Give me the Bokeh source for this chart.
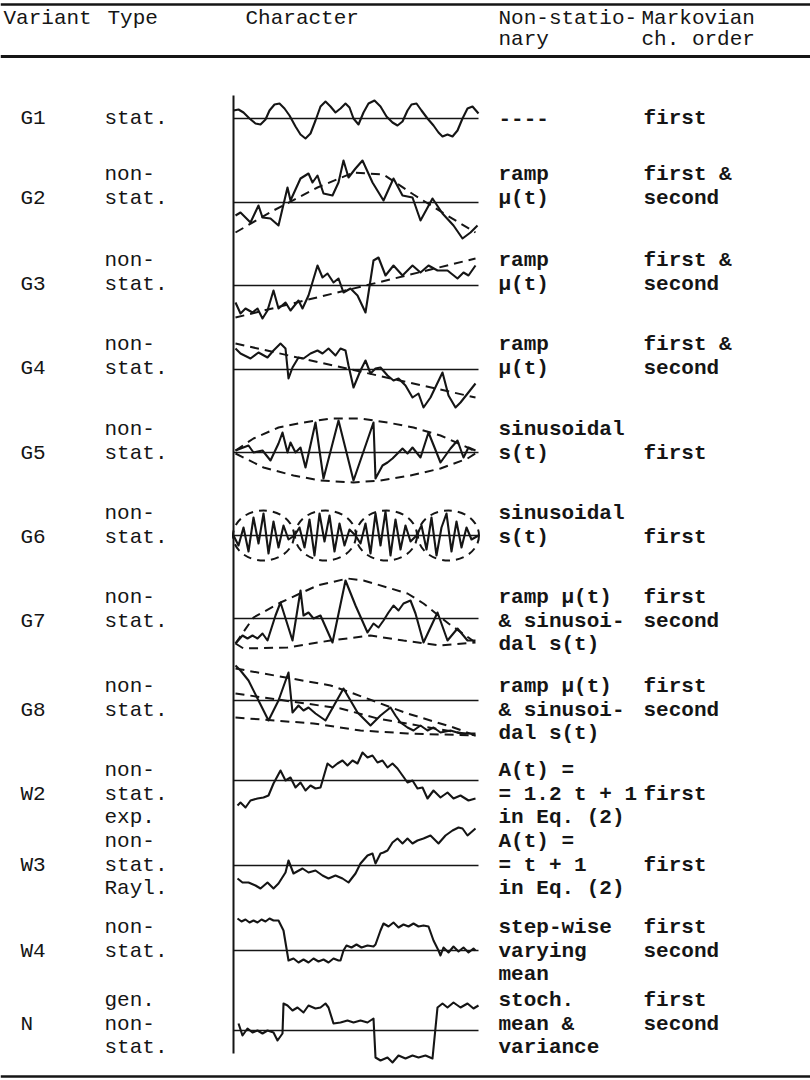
from bokeh.plotting import figure
from bokeh.models import Range1d, ColumnDataSource
from bokeh.core.properties import value
from bokeh.embed import file_html
from bokeh.resources import INLINE

# ---------------- table text ----------------
header_row1 = ["Variant", "Type", "Character", "Non-statio-", "Markovian"]
header_row2 = ["", "", "", "nary", "ch. order"]

variants = ["G1", "G2", "G3", "G4", "G5", "G6", "G7", "G8", "W2", "W3", "W4", "N"]
variant_line = [0, 1, 1, 1, 1, 1, 1, 1, 1, 1, 1, 1]
types = [["stat."], ["non-", "stat."], ["non-", "stat."], ["non-", "stat."],
         ["non-", "stat."], ["non-", "stat."], ["non-", "stat."], ["non-", "stat."],
         ["non-", "stat.", "exp."], ["non-", "stat.", "Rayl."], ["non-", "stat."],
         ["gen.", "non-", "stat."]]
nonstationary = [["----"], ["ramp", "μ(t)"], ["ramp", "μ(t)"], ["ramp", "μ(t)"],
                 ["sinusoidal", "s(t)"], ["sinusoidal", "s(t)"],
                 ["ramp μ(t)", "& sinusoi-", "dal s(t)"],
                 ["ramp μ(t)", "& sinusoi-", "dal s(t)"],
                 ["A(t) =", "= 1.2 t + 1", "in Eq. (2)"],
                 ["A(t) =", "= t + 1", "in Eq. (2)"],
                 ["step-wise", "varying", "mean"],
                 ["stoch.", "mean &", "variance"]]
markov = [["first"], ["first &", "second"], ["first &", "second"], ["first &", "second"],
          ["", "first"], ["", "first"], ["first", "second"], ["first", "second"],
          ["", "first"], ["", "first"], ["first", "second"], ["first", "second"]]

# ---------------- waveform data (time 0..245, amplitude) ----------------
g1_t = [0, 5, 10, 16, 22, 27, 32, 36, 41, 46, 51, 56, 62, 67, 72, 77, 82, 87, 92, 97,
        102, 107, 112, 116, 120, 125, 130, 135, 141, 147, 153, 159, 164, 169, 174, 178, 183,
        188, 194, 200, 205, 209, 214, 219, 224, 229, 234, 239, 245]
g1_v = [8, 9, 6, 0, -5, -6, -1, 8, 14, 15, 10, 3, -8, -16, -20, -15, -2, 12, 17, 12,
        6, 10, 15, 11, 0, -6, 6, 15, 18, 12, 2, -4, -7, -3, 8, 14, 15,
        8, 0, -7, -14, -18, -16, -18, -12, 0, 10, 12, 5]

g2_t = [2, 7, 17, 25, 29, 37, 45, 54, 57, 67, 75, 79, 84, 90, 99, 105, 110, 115, 122, 129,
        139, 150, 160, 169, 179, 187, 199, 209, 220, 229, 237, 244]
g2_v = [-13, -10, -20, -3, -15, -16, -23, 15, 2, 24, 29, 20, 27, 9, 7, 20, 42, 25, 34, 42,
        20, 2, 24, 7, 5, -18, 4, -11, -23, -36, -30, -23]
g2_trend_t = [2, 40, 84, 120, 150, 180, 212, 242]
g2_trend_v = [-30, -8, 15, 30, 28, 8, -12, -30]

g3_t = [2, 7, 12, 19, 24, 29, 34, 40, 45, 52, 57, 65, 69, 75, 84, 89, 94, 100, 105, 110,
        117, 124, 132, 140, 145, 152, 160, 169, 179, 187, 195, 204, 214, 224, 230, 235, 242]
g3_v = [-17, -28, -23, -27, -23, -33, -25, -5, -23, -17, -25, -15, -23, -10, 20, 8, 12, 3, 7, -7,
        -3, -10, -27, 25, 28, 10, 20, 10, 20, 13, 20, 15, 15, 7, 13, 10, 20]
g3_trend_t = [2, 242]
g3_trend_v = [-32, 27]

g4_t = [2, 7, 17, 25, 34, 40, 47, 52, 55, 59, 65, 70, 77, 84, 89, 95, 102, 107, 112, 115,
        120, 127, 132, 137, 142, 147, 154, 160, 165, 172, 179, 185, 190, 197, 209, 215, 222,
        227, 242]
g4_v = [21, 16, 11, 17, 12, 19, 26, 21, -9, 2, 12, 11, 16, 19, 16, 21, 14, 21, 19, 4,
        -18, -1, 9, -4, 1, 2, -6, -11, -9, -16, -28, -24, -38, -28, -3, -26, -38,
        -33, -14]
g4_trend_t = [2, 242]
g4_trend_v = [26, -28]

g5_t = [2, 15, 20, 29, 37, 45, 49, 54, 57, 62, 67, 72, 82, 90, 105, 120, 140, 142, 149, 154,
        159, 164, 169, 174, 179, 187, 195, 207, 217, 224, 230, 235, 242]
g5_v = [2, 7, 0, 2, -8, 9, 20, 0, 10, 0, 5, -15, 30, -26, 32, -28, 30, -26, -13, -10,
        -6, -1, 4, -1, 5, -5, 20, -10, 4, 12, -5, 5, 2]
g5_upper_t = [2, 20, 45, 70, 97, 127, 154, 180, 207, 234, 242]
g5_upper_v = [2, 14, 25, 30, 34, 34, 30, 25, 17, 5, 1]
g5_lower_t = [2, 30, 60, 87, 120, 147, 177, 207, 234, 242]
g5_lower_v = [-1, -15, -23, -28, -30, -28, -23, -16, -6, -1]

g6_t = [0, 5, 10, 15, 20, 25, 30, 35, 40, 45, 50, 55, 61,
        66, 71, 76, 81, 86, 91, 96, 101, 106, 111, 116, 122,
        127, 132, 137, 142, 147, 152, 157, 162, 167, 172, 177, 183,
        188, 193, 198, 203, 208, 213, 218, 223, 228, 233, 238, 245]
g6_v = [0, -10, 8, -16, 18, -8, 22, -18, 14, -12, 10, -4, 0,
        8, -12, 16, -20, 22, -6, 20, -16, 12, -10, 6, 0,
        -8, 12, -18, 22, -10, 24, -20, 16, -14, 10, -6, 0,
        10, -14, 18, -20, 8, 22, -16, 14, -12, 8, -4, 0]
g6_env_center_t = [30, 92, 153, 215]
g6_env_amp = [25, 25, 25, 25]

g7_t = [2, 9, 14, 19, 24, 29, 34, 42, 47, 59, 67, 70, 75, 80, 87, 99, 112, 122, 134, 140,
        145, 150, 155, 160, 165, 170, 177, 182, 190, 204, 214, 224, 234, 242]
g7_v = [-25, -17, -20, -17, -20, -15, -22, 3, 16, -22, 28, 3, 6, 0, 3, -24, 38, 13, -14, -5,
        -9, -2, 6, 13, 8, 15, 18, 5, -24, 6, -22, -10, -22, -22]
g7_upper_t = [2, 20, 47, 84, 114, 130, 154, 174, 190, 215, 242]
g7_upper_v = [-25, 1, 16, 33, 40, 38, 31, 25, 15, -5, -24]
g7_lower_t = [2, 10, 54, 97, 137, 170, 207, 242]
g7_lower_v = [-25, -30, -29, -22, -17, -22, -27, -24]

g8_t = [2, 7, 15, 25, 35, 45, 55, 59, 65, 70, 75, 82, 92, 110, 124, 137, 147, 157, 162, 167,
        174, 180, 187, 194, 200, 207, 217, 227, 242]
g8_v = [35, 30, 20, 0, -20, 0, 28, -12, -5, -10, -7, -13, -20, 12, -12, -25, -15, -7, -15, -22,
        -27, -30, -25, -30, -27, -32, -30, -33, -33]
g8_upper_t = [2, 97, 120, 174, 220, 242]
g8_upper_v = [32, 15, 7, -13, -27, -35]
g8_mean_t = [2, 107, 144, 242]
g8_mean_v = [7, -8, -18, -35]
g8_lower_t = [2, 80, 127, 174, 242]
g8_lower_v = [-17, -23, -30, -33, -35]

w2_t = [4, 7, 12, 17, 24, 30, 35, 40, 47, 52, 57, 62, 67, 72, 77, 82, 87, 94, 99, 104, 109,
        114, 119, 124, 129, 134, 139, 144, 149, 154, 159, 164, 169, 174, 179, 184, 189, 194,
        200, 207, 214, 220, 227, 235, 242]
w2_v = [-25, -22, -27, -20, -18, -17, -15, -3, 10, 0, 3, -7, -2, -10, -5, -8, -7, 17, 13, 17,
        20, 15, 20, 17, 28, 23, 25, 18, 20, 13, 17, 12, 5, -2, 0, -8, -7, -18,
        -10, -17, -12, -18, -15, -20, -18]

w3_t = [4, 9, 15, 22, 27, 34, 40, 45, 52, 55, 60, 69, 75, 82, 89, 95, 102, 109, 115, 122,
        127, 134, 139, 142, 147, 150, 154, 159, 164, 169, 174, 179, 184, 190, 197, 205, 212,
        219, 225, 229, 234, 242]
w3_v = [-13, -17, -17, -20, -23, -17, -23, -18, -7, 5, -8, -3, -7, -5, -10, -13, -10, -13, -17, -8,
        2, 10, 12, 2, 12, 13, 15, 23, 27, 22, 27, 22, 25, 27, 30, 22, 30,
        35, 38, 37, 30, 37]

w4_t = [4, 8, 12, 16, 20, 24, 28, 32, 36, 40, 45, 50, 55, 60, 65, 70, 75, 80, 85, 90, 95,
        100, 105, 107, 110, 113, 118, 123, 128, 134, 140, 142, 147, 150, 155, 160, 165, 170,
        175, 180, 185, 190, 195, 200, 205, 207, 210, 215, 220, 225, 230, 235, 240, 242]
w4_v = [32, 29, 31, 28, 30, 28, 31, 29, 32, 30, 30, 20, -10, -8, -12, -9, -12, -8, -11, -9, -12,
        -8, -10, -10, 0, 5, 3, 6, 3, 5, 4, 6, 20, 27, 24, 28, 23, 26,
        24, 27, 24, 25, 24, 10, 0, -5, 3, -2, 4, -1, 3, -2, 2, 0]

n_t = [5, 9, 14, 19, 24, 29, 34, 40, 44, 49, 50, 54, 59, 64, 70, 75, 82, 87, 92, 95, 100,
       107, 114, 120, 127, 134, 140, 142, 147, 154, 159, 165, 172, 179, 185, 192, 199, 204,
       209, 214, 220, 227, 234, 240, 245]
n_v = [7, -5, 2, -2, 0, -3, 0, -2, -10, -3, 27, 25, 20, 23, 18, 25, 22, 23, 27, 23, 7,
       8, 10, 8, 10, 8, 12, -27, -30, -27, -32, -25, -28, -25, -27, -25, -28, 23,
       27, 23, 28, 23, 27, 22, 25]

waves = [
    (g1_t, g1_v, []),
    (g2_t, g2_v, [(g2_trend_t, g2_trend_v)]),
    (g3_t, g3_v, [(g3_trend_t, g3_trend_v)]),
    (g4_t, g4_v, [(g4_trend_t, g4_trend_v)]),
    (g5_t, g5_v, [(g5_upper_t, g5_upper_v), (g5_lower_t, g5_lower_v)]),
    (g6_t, g6_v, []),
    (g7_t, g7_v, [(g7_upper_t, g7_upper_v), (g7_lower_t, g7_lower_v)]),
    (g8_t, g8_v, [(g8_upper_t, g8_upper_v), (g8_mean_t, g8_mean_v), (g8_lower_t, g8_lower_v)]),
    (w2_t, w2_v, []),
    (w3_t, w3_v, []),
    (w4_t, w4_v, []),
    (n_t, n_v, []),
]

# ---------------- layout ----------------
W, H = 810, 1080
FONT = value("Liberation Mono")
FS = "21px"
INK = "#151515"
LS = 23.6                      # text line spacing
row_top = [118, 174, 260, 344, 429, 513, 597, 686, 770, 841, 927, 1000]
baselines = [118, 202, 285, 369, 452, 535, 618, 700, 780, 865, 950, 1030]
col_x = {"variant": 20, "type": 104, "nonstat": 498, "markov": 643}
wave_x0, wave_w = 233, 245

p = figure(width=W, height=H, output_backend="svg", toolbar_location=None,
           x_range=Range1d(0, W), y_range=Range1d(H, 0),
           min_border=0, background_fill_color="white", border_fill_color="white")
p.axis.visible = False
p.grid.visible = False
p.outline_line_color = None

# rules
p.line([0, 810], [4, 4], line_color=INK, line_width=2.4)
p.line([0, 810], [56, 56], line_color=INK, line_width=3)
p.line([0, 810], [1076, 1076], line_color=INK, line_width=2.4)

# header
hx = [3, 107, 245, 498, 641]
p.text(x=hx, y=[18] * 5, text=header_row1, text_font=FONT, text_font_size=FS,
       text_baseline="middle", text_color=INK)
p.text(x=hx[3:], y=[39, 39], text=header_row2[3:], text_font=FONT, text_font_size=FS,
       text_baseline="middle", text_color=INK)

# body texts (left columns regular, right columns heavier as in the print)
lx, ly, lt = [], [], []
rx, ry, rt = [], [], []
for r, name in enumerate(variants):
    lx.append(col_x["variant"]); ly.append(row_top[r] + variant_line[r] * LS); lt.append(name)
    for i, s in enumerate(types[r]):
        lx.append(col_x["type"]); ly.append(row_top[r] + i * LS); lt.append(s)
    for col, lines in (("nonstat", nonstationary[r]), ("markov", markov[r])):
        for i, s in enumerate(lines):
            if s:
                rx.append(col_x[col]); ry.append(row_top[r] + i * LS); rt.append(s)
p.text(x="x", y="y", text="t", source=ColumnDataSource(dict(x=lx, y=ly, t=lt)),
       text_font=FONT, text_font_size=FS, text_baseline="middle", text_color=INK)
p.text(x="x", y="y", text="t", source=ColumnDataSource(dict(x=rx, y=ry, t=rt)),
       text_font=FONT, text_font_size=FS, text_baseline="middle", text_color=INK,
       text_font_style="bold")

# character column: vertical axis and baselines
p.line([wave_x0, wave_x0], [95, 1053], line_color=INK, line_width=2)
for b in baselines:
    p.line([wave_x0, wave_x0 + wave_w], [b, b], line_color=INK, line_width=1.6)

for r, (t, v, dashed) in enumerate(waves):
    b = baselines[r]
    p.line([wave_x0 + ti for ti in t], [b - vi for vi in v], line_color=INK, line_width=2.1,
           line_join="round")
    for dt, dv in dashed:
        p.line([wave_x0 + ti for ti in dt], [b - vi for vi in dv], line_color=INK,
               line_width=2, line_dash="9 6")

# G6 circular envelopes
p.ellipse(x=[wave_x0 + c for c in g6_env_center_t], y=[baselines[5]] * 4, width=61,
          height=[2 * a for a in g6_env_amp], fill_color=None, line_color=INK,
          line_width=2, line_dash="8 6")

open("out.html", "w").write(file_html(p, INLINE))
